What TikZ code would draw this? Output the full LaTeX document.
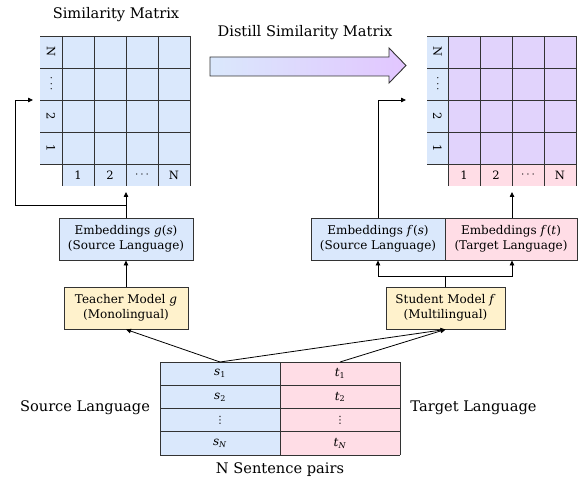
\documentclass[tikz,border=0pt]{standalone}
\usepackage{fontspec}
\setmainfont{DejaVu Serif}
\newfontfamily\dejasans{DejaVu Sans}
\usetikzlibrary{arrows.meta}
\definecolor{cblue}{HTML}{DAE8FC}
\definecolor{cpink}{HTML}{FFDDE6}
\definecolor{cpurple}{HTML}{E1D3FC}
\definecolor{cyellow}{HTML}{FFF2CC}
\definecolor{cgrad}{HTML}{E2C6FF}
\definecolor{cline}{HTML}{333333}
\newcommand{\sv}[2]{\textit{#1}\textsubscript{#2}}
\begin{document}
\begin{tikzpicture}[x=1pt,y=-1pt,
  gridline/.style={draw=cline,line width=0.9pt},
  lab/.style={inner sep=0pt,font=\fontsize{11.5}{13}\selectfont},
  box/.style={draw=cline,line width=0.9pt,minimum height=42pt,inner sep=0pt,align=center,font=\fontsize{12}{15}\selectfont},
  celltxt/.style={inner sep=0pt,font=\fontsize{12}{13}\selectfont},
  title/.style={inner sep=0pt,font=\fontsize{14.6}{17}\selectfont},
  conn/.style={draw=black,line width=0.8pt},
  arr/.style={conn,-{Triangle[length=5pt,width=4.5pt]}}
]
\useasboundingbox (0,0) rectangle (578,481);

% titles
\node[title] (t1) at (116,15) {Similarity Matrix};
\node[title] (t2) at (305,33) {Distill Similarity Matrix};

% big arrow
\shade[left color=cblue,right color=cgrad] (210,57) -- (389,57) -- (389,48) -- (406,65.5) -- (389,83) -- (389,76) -- (210,76) -- cycle;
\draw[cline,line width=0.9pt] (210,57) -- (389,57) -- (389,48) -- (406,65.5) -- (389,83) -- (389,76) -- (210,76) -- cycle;

% left matrix
\fill[cblue] (40,36) rectangle (190,164);
\fill[cblue] (62,164) rectangle (190,186);
\foreach \y in {36,68,100,132,164} \draw[gridline] (40,\y) -- (190,\y);
\foreach \x in {62,94,126,158,190} \draw[gridline] (\x,36) -- (\x,186);
\node[lab,rotate=-90] (lr4) at (51,52) {N};
\node[lab,rotate=-90] (lr3) at (51,84) {$\cdots$};
\node[lab,rotate=-90] (lr2) at (51,116) {2};
\node[lab,rotate=-90] (lr1) at (51,148) {1};
\node[lab] (lc1) at (78,175) {1};
\node[lab] (lc2) at (110,175) {2};
\node[lab] (lc3) at (142,175) {$\cdots$};
\node[lab] (lc4) at (174,175) {N};

% right matrix
\fill[cblue] (427,36) rectangle (448,164);
\fill[cpurple] (448,36) rectangle (576,164);
\fill[cpink] (448,164) rectangle (576,186);
\foreach \y in {36,68,100,132,164} \draw[gridline] (427,\y) -- (576,\y);
\foreach \x in {448,480,512,544,576} \draw[gridline] (\x,36) -- (\x,186);
\node[lab,rotate=-90] (rr4) at (437.5,52) {N};
\node[lab,rotate=-90] (rr3) at (437.5,84) {$\cdots$};
\node[lab,rotate=-90] (rr2) at (437.5,116) {2};
\node[lab,rotate=-90] (rr1) at (437.5,148) {1};
\node[lab] (rc1) at (464,175) {1};
\node[lab] (rc2) at (496,175) {2};
\node[lab] (rc3) at (528,175) {$\cdots$};
\node[lab] (rc4) at (560,175) {N};

\coordinate (gIn) at (126,192);
\coordinate (gSide) at (33,100);
\coordinate (fIn) at (512,192);
\coordinate (fSide) at (406,100);

% boxes
\node[box,fill=cblue,minimum width=134pt] (embG) at (126,239) {Embeddings \textit{g}(\textit{s})\\(Source Language)};
\node[box,fill=cyellow,minimum width=124pt] (teacher) at (126,308) {Teacher Model \textit{g}\\(Monolingual)};
\node[box,fill=cblue,minimum width=134pt] (embFs) at (378,239) {Embeddings \textit{f}(\textit{s})\\(Source Language)};
\node[box,fill=cpink,minimum width=132pt] (embFt) at (511,239) {Embeddings \textit{f}(\textit{t})\\(Target Language)};
\node[box,fill=cyellow,minimum width=119pt] (student) at (445.5,308) {Student Model \textit{f}\\(Multilingual)};

% table
\fill[cblue] (160,362) rectangle (280,455);
\fill[cpink] (280,362) rectangle (400,455);
\foreach \y in {362,385.25,408.5,431.75,455} \draw[gridline] (160,\y) -- (400,\y);
\foreach \x in {160,280,400} \draw[gridline] (\x,362) -- (\x,455);
\node[celltxt] (s1) at (220,373.6) {\sv{s}{1}};
\node[celltxt] (s2) at (220,396.9) {\sv{s}{2}};
\node[celltxt,font=\fontsize{10}{11}\selectfont\dejasans] (s3) at (220,420.1) {⋮};
\node[celltxt] (s4) at (220,443.4) {\sv{s}{\textit{N}}};
\node[celltxt] (u1) at (340,373.6) {\sv{t}{1}};
\node[celltxt] (u2) at (340,396.9) {\sv{t}{2}};
\node[celltxt,font=\fontsize{10}{11}\selectfont\dejasans] (u3) at (340,420.1) {⋮};
\node[celltxt] (u4) at (340,443.4) {\sv{t}{\textit{N}}};
\coordinate (sTop) at (220,362);
\coordinate (tTop) at (340,362);

\node[title] (srcl) at (85,408) {Source Language};
\node[title] (tgtl) at (473.5,408) {Target Language};
\node[title] (pairs) at (280,470) {N Sentence pairs};

% connectors
\draw[arr] (embG.north) -- (gIn);
\draw[arr] (126,205) -- (15,205) -- (15,100) -- (gSide);
\draw[arr] (teacher.north) -- (embG.south);
\draw[arr] (embFs.north) |- (fSide);
\draw[arr] (embFt.north -| fIn) -- (fIn);
\coordinate (sj) at (445.5,276);
\draw[arr] (student.north) -- (sj) -| (embFs.south);
\draw[arr] (sj) -| (embFt.south -| fIn);
\draw[arr] (sTop) -- (teacher.south);
\draw[arr] (sTop) -- (student.south);
\draw[arr] (tTop) -- (student.south);
\end{tikzpicture}
\end{document}
